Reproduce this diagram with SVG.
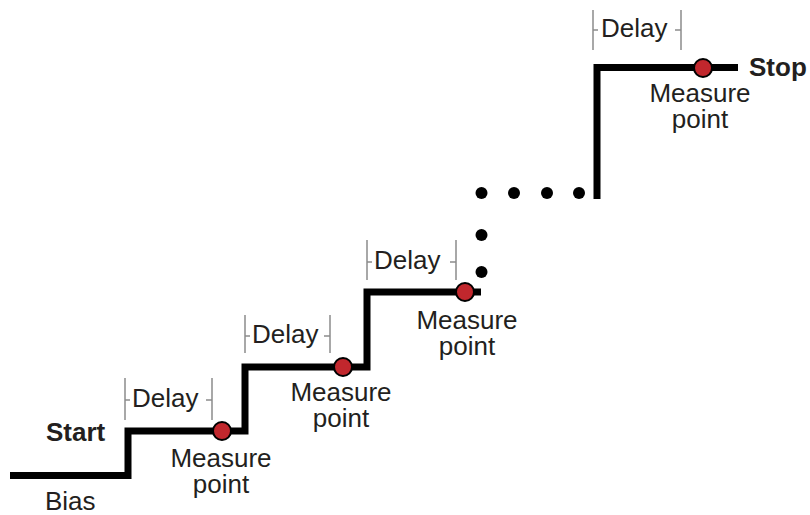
<svg xmlns="http://www.w3.org/2000/svg" width="810" height="515" viewBox="0 0 810 515">
<style>
.step{fill:none;stroke:#000;stroke-width:7;stroke-linejoin:miter;stroke-linecap:butt}
.mp{fill:#c1272d;stroke:#000;stroke-width:2}
.dot{fill:#000}
.tick{fill:none;stroke:#8c8c8c;stroke-width:1.5}
.t{font-family:"Liberation Sans",Arial,sans-serif;font-size:26px;fill:#231f20}
.b{font-family:"Liberation Sans",Arial,sans-serif;font-size:26px;font-weight:bold;fill:#231f20}
.c{text-anchor:middle}
</style>
<rect width="810" height="515" fill="#fff"/>
<g id="connectors">
<path class="step" d="M10,475.5 H128 V431 H245 V367 H367 V292 H481"/>
<path class="step" d="M597,199 V67.5 H738"/>
<g id="dots">
<circle class="dot" cx="481.5" cy="272" r="6"/>
<circle class="dot" cx="481.5" cy="235" r="6"/>
<circle class="dot" cx="481.5" cy="193" r="6"/>
<circle class="dot" cx="514" cy="193" r="6"/>
<circle class="dot" cx="547" cy="193" r="6"/>
<circle class="dot" cx="579" cy="193" r="6"/>
</g>
</g>
<g id="start"><text class="b" x="46" y="441">Start</text></g>
<g id="bias"><text class="t" x="45" y="510">Bias</text></g>
<g id="stop"><text class="b" x="749" y="76">Stop</text></g>
<g id="delay1">
<path class="tick" d="M125,378 V420 M125,400 H130 M212,378 V420 M212,400 H206"/>
<text class="t" x="132" y="407">Delay</text>
</g>
<g id="delay2">
<path class="tick" d="M245,315 V353 M245,336 H250 M330,315 V353 M330,336 H324"/>
<text class="t" x="252" y="343">Delay</text>
</g>
<g id="delay3">
<path class="tick" d="M367,240 V280 M367,262 H372 M456,240 V280 M456,262 H450"/>
<text class="t" x="374" y="269">Delay</text>
</g>
<g id="delay4">
<path class="tick" d="M593,10 V50 M593,30 H598 M681,10 V50 M681,30 H675"/>
<text class="t" x="601" y="37">Delay</text>
</g>
<g id="mp1">
<circle class="mp" cx="222" cy="431" r="9"/>
<text class="t c" x="221" y="467">Measure</text>
<text class="t c" x="221" y="493">point</text>
</g>
<g id="mp2">
<circle class="mp" cx="343" cy="367" r="9"/>
<text class="t c" x="341" y="401">Measure</text>
<text class="t c" x="341" y="427">point</text>
</g>
<g id="mp3">
<circle class="mp" cx="465" cy="292" r="9"/>
<text class="t c" x="467" y="329">Measure</text>
<text class="t c" x="467" y="355">point</text>
</g>
<g id="mp4">
<circle class="mp" cx="703" cy="68" r="9"/>
<text class="t c" x="700" y="102">Measure</text>
<text class="t c" x="700" y="128">point</text>
</g>
</svg>
